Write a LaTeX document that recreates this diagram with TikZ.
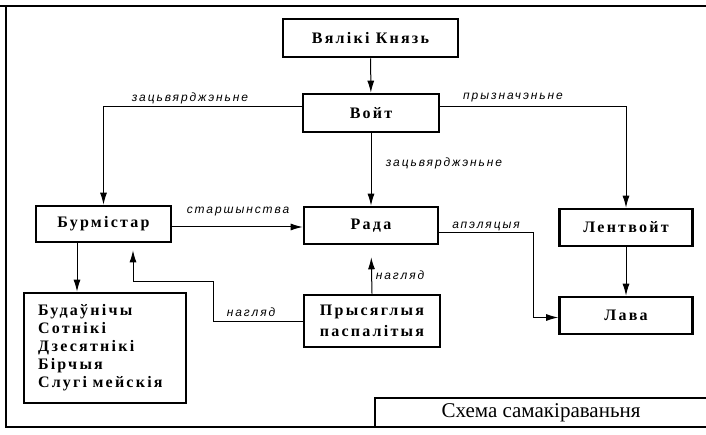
\documentclass[tikz,border=0pt]{standalone}
\usepackage{fontspec}
\setmainfont{Liberation Serif}
\newfontfamily\boxfont[LetterSpace=14]{Liberation Serif}
\newfontfamily\lblfont[LetterSpace=16]{Liberation Sans}
\usetikzlibrary{arrows.meta}
\tikzset{
  box/.style={draw, line width=2.6pt, inner sep=0pt, align=center,
    font=\boxfont\bfseries\fontsize{16}{21}\selectfont},
  conn/.style={line width=1pt},
  arr/.style={conn, -{Latex[length=12pt,width=7pt]}},
  lbl/.style={font=\lblfont\itshape\fontsize{12}{14}\selectfont, inner sep=0pt},
  frame/.style={line width=1.3pt}
}
\begin{document}
\begin{tikzpicture}[x=1pt,y=-1pt]
\useasboundingbox (0,0) rectangle (706,435);
% frame
\draw[frame] (0,6) -- (706,6);
\draw[frame] (6,6) -- (6,427) -- (706,427);
\draw[frame] (375,427) -- (375,398) -- (706,398);
\node[font=\fontsize{21}{24}\selectfont, inner sep=0pt] (cap) at (541,413) {Схема самакіраваньня};
% boxes
\node[box, minimum width=175, minimum height=38] (vk) at (370.5,38) {Вялікі Князь};
\node[box, minimum width=136, minimum height=38] (vojt) at (371,113) {Войт};
\node[box, minimum width=135, minimum height=36] (bur) at (103.5,224) {Бурмістар};
\node[box, minimum width=134, minimum height=37] (rada) at (371,225.5) {Рада};
\node[box, minimum width=133, minimum height=37] (lent) at (626,227.5) {Лентвойт};
\node[box, minimum width=133, minimum height=37] (lava) at (626,315.5) {Лава};
\node[box, minimum width=136, minimum height=52] (prys) at (372,321) {Прысяглыя\\паспалітыя};
\node[box, minimum width=162, minimum height=110, text width=134, align=left,
  font=\boxfont\bfseries\fontsize{16}{18}\selectfont] (list) at (105,348)
  {Будаўнічы\\Сотнікі\\Дзесятнікі\\Бірчыя\\Слугі мейскія};
% helper coordinates
\coordinate (ap) at (533,0);
\coordinate (b1) at (77,0);
\coordinate (n1) at (213,282);
\coordinate (n2) at (133,282);
% connectors
\draw[arr] (vk) -- (vojt);
\draw[arr] ([yshift=6pt]vojt.west) -| (bur.north);
\draw[arr] ([yshift=6pt]vojt.east) -| (lent.north);
\draw[arr] (vojt) -- (rada);
\draw[arr] ([yshift=-3pt]bur.east) -- ([yshift=-3pt]bur.east -| rada.west);
\draw[arr] ([yshift=-7pt]rada.east) -| ([yshift=-2pt]ap |- lava.west) -- ([yshift=-2pt]lava.west);
\draw[arr] (lent) -- (lava);
\draw[arr] (b1 |- bur.south) -- (b1 |- list.north);
\draw[arr, shorten >=7pt] (prys.west) -| (n1) -- (n2) -- (n2 |- bur.south);
\draw[arr, shorten >=12pt] (prys.north) -- (rada.south);
% labels
\node[lbl] (l1) at (190,98) {зацьвярджэньне};
\node[lbl] (l2) at (513,98) {прызначэньне};
\node[lbl] (l3) at (444,163) {зацьвярджэньне};
\node[lbl] (l4) at (238,212) {старшынства};
\node[lbl] (l5) at (486,226) {апэляцыя};
\node[lbl] (l6) at (400,275) {нагляд};
\node[lbl] (l7) at (251,312) {нагляд};
\end{tikzpicture}
\end{document}
